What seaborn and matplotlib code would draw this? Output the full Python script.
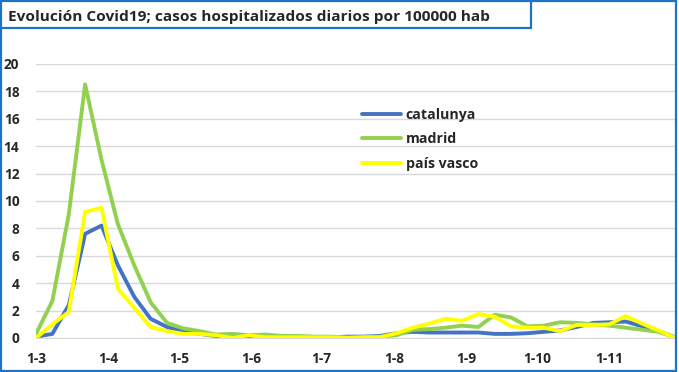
import numpy as np
import pandas as pd
import matplotlib
matplotlib.use('Agg')
import matplotlib.pyplot as plt
import matplotlib.dates as mdates
from matplotlib.patches import Rectangle
import seaborn as sns

# datos semanales desde 1-3
fechas = pd.date_range('2020-03-01', periods=40, freq='7D')
catalunya = [0.1, 0.3, 2.4, 7.6, 8.2, 5.3, 3.0, 1.4, 0.8, 0.45, 0.3, 0.15, 0.05, 0.1, 0.1, 0.05, 0.05, 0.05, 0.05, 0.1,
             0.1, 0.15, 0.35, 0.45, 0.4, 0.4, 0.4, 0.4, 0.3, 0.3, 0.35, 0.45, 0.55, 0.8, 1.1, 1.15, 1.2, 0.85, 0.5, 0.05]
madrid = [0.3, 2.7, 9.0, 18.5, 13.0, 8.3, 5.3, 2.6, 1.1, 0.7, 0.5, 0.25, 0.3, 0.2, 0.25, 0.15, 0.15, 0.1, 0.1, 0.05,
          0.05, 0.1, 0.2, 0.6, 0.65, 0.75, 0.9, 0.8, 1.7, 1.5, 0.85, 0.9, 1.15, 1.1, 1.0, 0.9, 0.75, 0.6, 0.45, 0.05]
pais_vasco = [0.0, 1.0, 1.9, 9.2, 9.5, 3.6, 2.2, 0.8, 0.5, 0.3, 0.3, 0.2, 0.0, 0.2, 0.05, 0.05, 0.05, 0.05, 0.05, 0.0,
              0.05, 0.05, 0.35, 0.75, 1.05, 1.4, 1.25, 1.75, 1.55, 0.85, 0.75, 0.75, 0.5, 0.95, 0.95, 1.0, 1.6, 1.05, 0.55, 0.0]
series = ['catalunya', 'madrid', 'país vasco']
colores = ['#4472C4', '#92D050', '#FFFF00']
meses = pd.date_range('2020-03-01', '2020-11-01', freq='MS')
etiquetas_x = ['1-3', '1-4', '1-5', '1-6', '1-7', '1-8', '1-9', '1-10', '1-11']
titulo = 'Evolución Covid19; casos hospitalizados diarios por 100000 hab'

df = pd.DataFrame({'fecha': fechas, 'catalunya': catalunya, 'madrid': madrid, 'país vasco': pais_vasco})
df_largo = df.melt(id_vars='fecha', var_name='region', value_name='casos')

sns.set_style('white')
plt.rcParams['font.family'] = ['Open Sans', 'DejaVu Sans']
azul = '#1F73C6'

fig = plt.figure(figsize=(6.79, 3.72), dpi=100)
ax = fig.add_axes([0.053, 0.0914, 0.941, 0.737])

sns.lineplot(data=df_largo, x='fecha', y='casos', hue='region', hue_order=series,
             palette=colores, linewidth=2.8, ax=ax)

ax.set_xlim(fechas[0], fechas[-1])
ax.set_ylim(0, 20)
ax.set_yticks(np.arange(0, 21, 2))
ax.yaxis.grid(True, color='#d9d9d9', linewidth=1)
ax.xaxis.grid(False)
ax.set_axisbelow(True)
ax.set_xticks(meses)
ax.set_xticklabels(etiquetas_x)
ax.set_xlabel('')
ax.set_ylabel('')
for s in ['top', 'right', 'left']:
    ax.spines[s].set_visible(False)
ax.spines['bottom'].set_color('#d9d9d9')
ax.tick_params(axis='x', length=4, color='#bfbfbf', direction='out', pad=6)
ax.tick_params(axis='y', length=0, pad=12)
for lab in ax.get_xticklabels() + ax.get_yticklabels():
    lab.set_fontweight('bold')
    lab.set_fontsize(9.8)

ley = ax.legend(loc='upper left', bbox_to_anchor=(0.49, 0.885), frameon=False,
                handlelength=2.8, labelspacing=0.72, handletextpad=0.3,
                prop={'weight': 'bold', 'size': 10.2})

# borde exterior y caja del título
fig.patches.append(Rectangle((0.002, 0.004), 0.994, 0.993, transform=fig.transFigure,
                             fill=False, edgecolor=azul, linewidth=1.6, zorder=10))
fig.patches.append(Rectangle((0.002, 0.925), 0.78, 0.072, transform=fig.transFigure,
                             facecolor='white', edgecolor=azul, linewidth=1.6, zorder=10))
fig.text(0.012, 0.955, titulo, fontsize=11.1, fontweight='bold', va='center', ha='left', zorder=11)

fig.savefig('out.png', dpi=100)
